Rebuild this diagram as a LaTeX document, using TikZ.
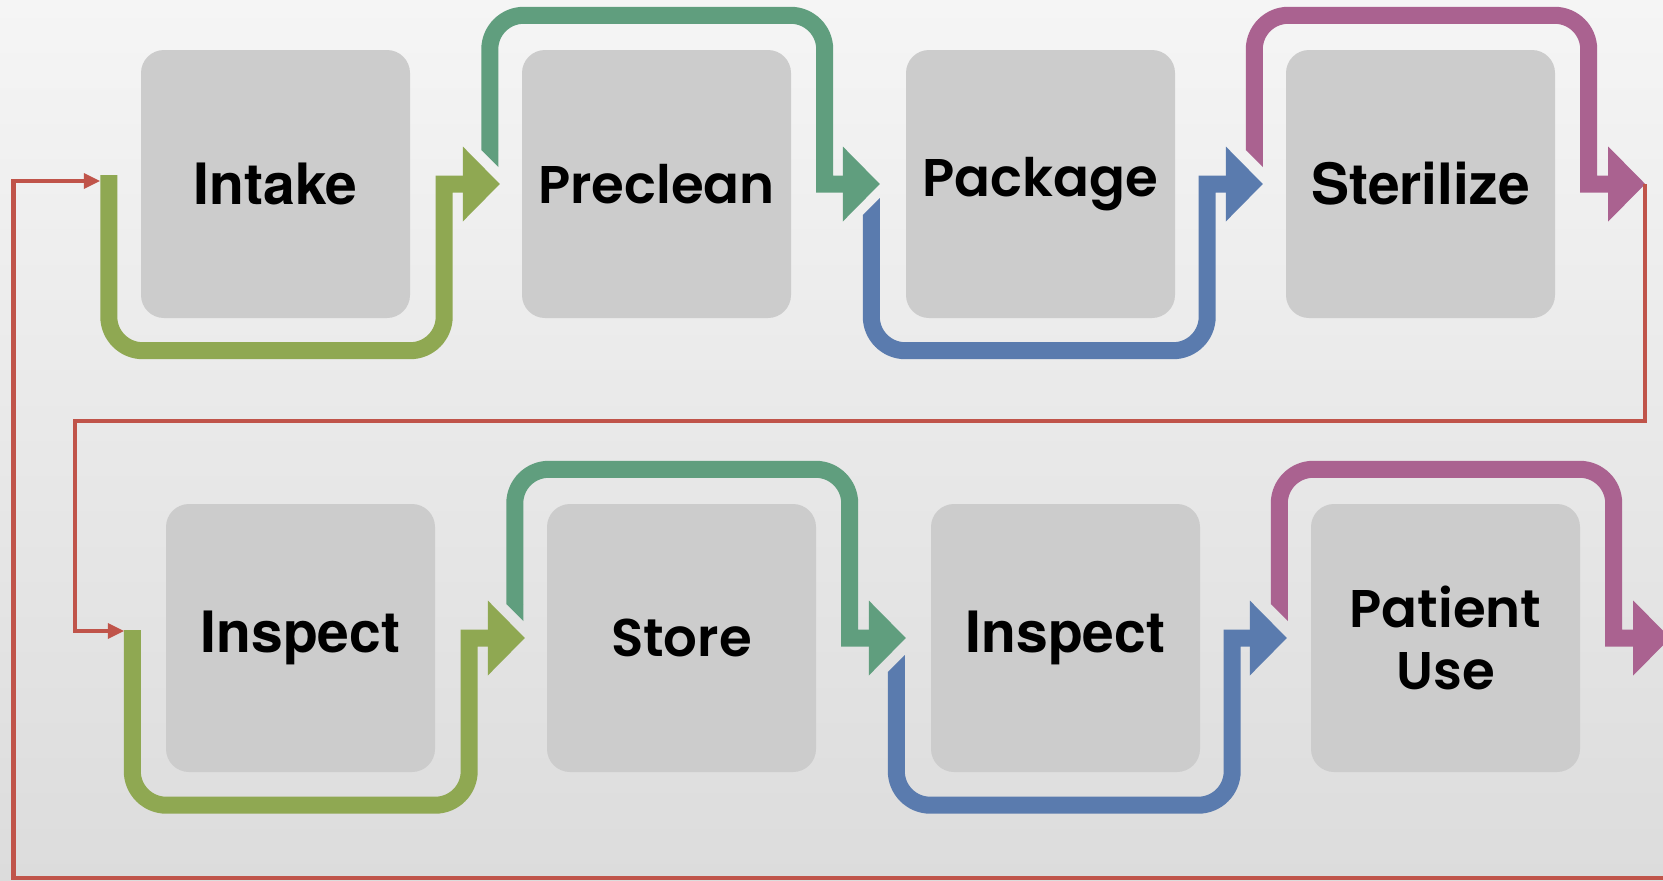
\documentclass[tikz,border=0pt]{standalone}
\usepackage{fontspec}
\setmainfont{TeX Gyre Heros}
\newfontfamily\popfont{Poppins}[BoldFont={Poppins SemiBold}]
\usetikzlibrary{
    positioning,
    arrows.meta,
    calc
}
\definecolor{BoxGray}{RGB}{204,204,204}
\definecolor{FlowOlive}{RGB}{143,168,82}
\definecolor{FlowTeal}{RGB}{96,158,126}
\definecolor{FlowBlue}{RGB}{90,123,174}
\definecolor{FlowPink}{RGB}{170,98,144}
\definecolor{LoopRed}{RGB}{192,84,74}
\definecolor{BgTop}{RGB}{245,245,245}
\definecolor{BgBottom}{RGB}{220,220,220}

\begin{document}
\begin{tikzpicture}[
        x=1pt, y=-1pt,
        stage/.style={rectangle, rounded corners=23pt, fill=BoxGray, minimum width=269pt, minimum height=268pt, inner sep=0pt, align=center, font=\bfseries\fontsize{57}{62}\selectfont},
        popstage/.style={stage, font=\popfont\bfseries\fontsize{53}{62}\selectfont},
        band/.style={line width=17pt, rounded corners=34pt, -{Triangle[length=37pt,width=75pt,line width=0pt]}},
        loopline/.style={LoopRed, line width=4.5pt, -{Triangle[length=16pt,width=16pt,line width=0pt]}},
    ]

    % ===== Background =====
    \useasboundingbox (0,0) rectangle (1663,881);
    \clip (0,0) rectangle (1663,881);
    \shade[top color=BgTop, bottom color=BgBottom] (0,0) rectangle (1663,881);

    % ===== Row 1 =====
    \node[stage] (intake) at (275.5,184) {Intake};
    \node[popstage] (preclean) at (656.5,184) {Preclean};
    \node[popstage] (package) at (1040.5,184) {Package};
    \node[stage] (sterilize) at (1420.5,184) {Sterilize};

    % ===== Row 2 =====
    \node[stage] (inspectA) at (300.5,638) {Inspect};
    \node[popstage] (store) at (681.5,638) {Store};
    \node[stage] (inspectB) at (1065.5,638) {Inspect};
    \node[popstage] (patient) at (1445.5,638) {Patient\\Use};

    % free ends of the return lines
    \coordinate (entryA) at ($(intake.west)+(-41,-3)$);
    \coordinate (entryB) at ($(inspectA.west)+(-42,-7)$);
    \coordinate (exitA) at ($(sterilize.east)+(90,0)$);
    \coordinate (exitB) at ($(patient.east)+(90,0)$);

    % ===== Bands, row 1 =====
    \draw[band, FlowOlive] ($(intake.west)+(-32,-9)$) |- ($(intake.south east)+(34,32.5)$) [sharp corners] |- ($(preclean.west)+(-22,0)$);

    \draw[band, FlowTeal] ($(preclean.west)+(-32,-34)$) |- ($(preclean.north east)+(33.5,-34.5)$) [sharp corners] |- ($(package.west)+(-26,0)$);
    \fill[FlowTeal] ($(preclean.west)+(-40.5,-34)$) -- ++(17,0) -- ++(0,17) -- cycle;

    \draw[band, FlowBlue] ($(package.west)+(-34.5,31)$) |- ($(package.south east)+(32,32.5)$) [sharp corners] |- ($(sterilize.west)+(-23,0)$);
    \fill[FlowBlue] ($(package.west)+(-43,31)$) -- ++(17,0) -- ++(0,-17) -- cycle;

    \draw[band, FlowPink] ($(sterilize.west)+(-31.5,-34)$) |- ($(sterilize.north east)+(33.5,-34.5)$) [sharp corners] |- (exitA);
    \fill[FlowPink] ($(sterilize.west)+(-40,-34)$) -- ++(17,0) -- ++(0,17) -- cycle;

    % ===== Bands, row 2 =====
    \draw[band, FlowOlive] ($(inspectA.west)+(-33.5,-8)$) |- ($(inspectA.south east)+(34,33)$) [sharp corners] |- ($(store.west)+(-22,0)$);

    \draw[band, FlowTeal] ($(store.west)+(-32,-34)$) |- ($(store.north east)+(33.5,-34.5)$) [sharp corners] |- ($(inspectB.west)+(-25,0)$);
    \fill[FlowTeal] ($(store.west)+(-40.5,-34)$) -- ++(17,0) -- ++(0,17) -- cycle;

    \draw[band, FlowBlue] ($(inspectB.west)+(-34.5,34)$) |- ($(inspectB.south east)+(32,33)$) [sharp corners] |- ($(patient.west)+(-24,0)$);
    \fill[FlowBlue] ($(inspectB.west)+(-43,34)$) -- ++(17,0) -- ++(0,-17) -- cycle;

    \draw[band, FlowPink] ($(patient.west)+(-31.5,-34)$) |- ($(patient.north east)+(33.5,-34.5)$) [sharp corners] |- (exitB);
    \fill[FlowPink] ($(patient.west)+(-40,-34)$) -- ++(17,0) -- ++(0,17) -- cycle;

    % ===== Return lines =====
    \draw[loopline] (exitA) |- ($(entryB)+(-49,-210)$) |- (entryB);
    \draw[loopline] (exitB) |- ($(entryA)+(-86.5,697)$) |- (entryA);
\end{tikzpicture}
\end{document}
